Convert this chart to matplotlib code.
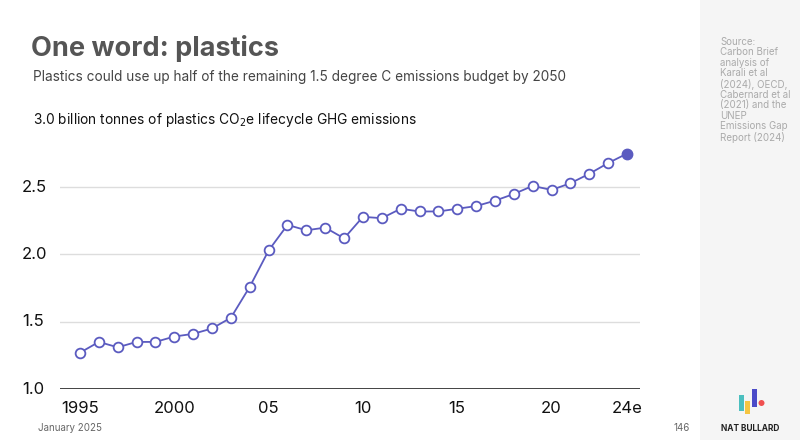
import matplotlib.pyplot as plt
import matplotlib.patches as mpatches
import matplotlib.transforms as mtrans

plt.rcParams['font.family'] = ['Inter', 'DejaVu Sans']

years = list(range(1995, 2025))
emissions = [1.27, 1.35, 1.31, 1.35, 1.35, 1.39, 1.41, 1.45, 1.53, 1.76,
             2.03, 2.22, 2.18, 2.20, 2.12, 2.28, 2.27, 2.34, 2.32, 2.32,
             2.34, 2.36, 2.40, 2.45, 2.51, 2.48, 2.53, 2.60, 2.68, 2.75]
xtick_pos = [1995, 2000, 2005, 2010, 2015, 2020, 2024]
xtick_lab = ['1995', '2000', '05', '10', '15', '20', '24e']
ytick_pos = [1.0, 1.5, 2.0, 2.5]
ytick_lab = ['1.0', '1.5', '2.0', '2.5']

W, H = 800, 440
fig = plt.figure(figsize=(8, 4.4), dpi=100)
fig.patch.set_facecolor('white')

# grey side panel
fig.add_artist(mpatches.Rectangle((700 / W, 0), 100 / W, 1, transform=fig.transFigure,
                                  facecolor='#f5f5f5', edgecolor='none'))

L, R = 60, 640
ppy = (627 - 80) / 29
ax = fig.add_axes([L / W, (H - 389) / H, (R - L) / W, (389 - 120) / H])
ax.set_facecolor('none')
ax.set_xlim(1995 - (80 - L) / ppy, 2024 + (R - 627) / ppy)
ax.set_ylim(1.0, 3.0)
ax.set_clip_on(False)
for s in ax.spines.values():
    s.set_visible(False)
ax.set_xticks([])
ax.set_yticks([])
for v in ytick_pos[1:]:
    ax.axhline(v, color='#dddddd', lw=1, zorder=0)
ax.axhline(1.0, color='#222222', lw=1.2, zorder=1)

col = '#5b5bc0'
ax.plot(years[:-1], emissions[:-1], color=col, lw=1.3, marker='o', ms=7,
        mfc='white', mec=col, mew=1.3, zorder=3, clip_on=False)
ax.plot(years[-2:], emissions[-2:], color=col, lw=1.3, zorder=2)
ax.plot(years[-1], emissions[-1], marker='o', ms=7.5, color=col, zorder=4, clip_on=False)

ytr = mtrans.blended_transform_factory(fig.transFigure, ax.transData)
for v, lab in zip(ytick_pos, ytick_lab):
    ax.text(22 / W, v, lab, transform=ytr, ha='left', va='center', fontsize=12, color='#111111')
xtr = mtrans.blended_transform_factory(ax.transData, fig.transFigure)
for p, lab in zip(xtick_pos, xtick_lab):
    ax.text(p, (H - 408) / H, lab, transform=xtr, ha='center', va='center', fontsize=12, color='#111111')

fig.text(31 / W, (H - 48) / H, 'One word: plastics', fontsize=19.5, fontweight='bold', color='#555555', va='center')
fig.text(33 / W, (H - 77) / H, 'Plastics could use up half of the remaining 1.5 degree C emissions budget by 2050',
         fontsize=9.8, color='#444444', va='center')
fig.text(33 / W, (H - 120) / H, '3.0 billion tonnes of plastics CO$_2$e lifecycle GHG emissions',
         fontsize=9.9, color='#111111', va='center')
fig.text(720 / W, (H - 37) / H,
         'Source:\nCarbon Brief\nanalysis of\nKarali et al\n(2024), OECD,\nCabernard et al\n(2021) and the\nUNEP\nEmissions Gap\nReport (2024)',
         fontsize=7, color='#aaaaaa', va='top', linespacing=1.05)
fig.text(38 / W, (H - 428) / H, 'January 2025', fontsize=7, color='#666666', va='center')
fig.text(690 / W, (H - 428) / H, '146', fontsize=7, color='#666666', va='center', ha='right')
fig.text(750 / W, (H - 428) / H, 'NAT BULLARD', fontsize=6, fontweight='bold', color='#222222', va='center', ha='center')

# logo
for x0, y0, h, c in [(739, 395, 16, '#4bbfbf'), (745, 401, 13, '#f5c542'), (752, 389, 18, '#4b4bc8')]:
    fig.add_artist(mpatches.Rectangle((x0 / W, (H - y0 - h) / H), 4.5 / W, h / H,
                                      transform=fig.transFigure, facecolor=c, edgecolor='none'))
fig.add_artist(mpatches.Ellipse((761.5 / W, (H - 403) / H), 6 / W, 6 / H,
                                transform=fig.transFigure, facecolor='#f05050', edgecolor='none'))

fig.savefig('out.png', dpi=100)
